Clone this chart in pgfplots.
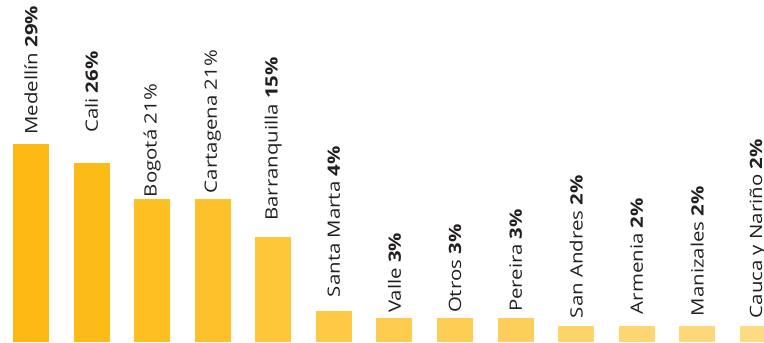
\documentclass[border=0pt]{standalone}
\usepackage{fontspec}
\setmainfont{Open Sans}
\newfontfamily\lblfont[FakeStretch=1.2]{Open Sans}
\usepackage{pgfplots}
\pgfplotsset{compat=1.18}
\definecolor{c0}{HTML}{FDB913}
\definecolor{c1}{HTML}{FDBB18}
\definecolor{c2}{HTML}{FDBF22}
\definecolor{c3}{HTML}{FDC12C}
\definecolor{c4}{HTML}{FEC73A}
\definecolor{c5}{HTML}{FEC944}
\definecolor{c6}{HTML}{FDCB4E}
\definecolor{c7}{HTML}{FDCD54}
\definecolor{c8}{HTML}{FDCF5A}
\definecolor{c9}{HTML}{FDD46A}
\definecolor{c10}{HTML}{FDD672}
\definecolor{c11}{HTML}{FDD87A}
\definecolor{c12}{HTML}{FDDB82}
\definecolor{txt}{HTML}{231F20}
\pgfplotsset{lbl/.style={nodes near coords={\pgfplotspointmeta}, point meta=explicit symbolic,
  every node near coord/.append style={inner xsep=#1pt}}}
\begin{document}
\begin{tikzpicture}
\useasboundingbox (0,0) rectangle (764pt,343pt);
\clip (0,0) rectangle (764pt,343pt);
\begin{axis}[
  at={(0,0)}, anchor=south west,
  scale only axis, width=764pt, height=343pt,
  xmin=-0.512, xmax=12.1, ymin=-0.146, ymax=50.07,
  hide axis, clip=false,
  ybar, bar width=36pt, bar shift=0pt,
  every node near coord/.append style={rotate=90, anchor=west, inner ysep=0pt,
    font=\lblfont\fontsize{17}{18}\selectfont, text=txt},
]
\addplot[fill=c0, draw=none, lbl=9] coordinates {(0,29) [Medellín \textbf{29\%}]};
\addplot[fill=c1, draw=none, lbl=30] coordinates {(1,26.2) [Cali \textbf{26\%}]};
\addplot[fill=c2, draw=none, lbl=2] coordinates {(2,20.9) [Bogotá 21\%]};
\addplot[fill=c3, draw=none, lbl=6] coordinates {(3,20.9) [Cartagena 21\%]};
\addplot[fill=c4, draw=none, lbl=16] coordinates {(4,15.4) [Barranquilla \textbf{15\%}]};
\addplot[fill=c5, draw=none, lbl=14] coordinates {(5,4.5) [Santa Marta \textbf{4\%}]};
\addplot[fill=c6, draw=none, lbl=5] coordinates {(6,3.5) [Valle \textbf{3\%}]};
\addplot[fill=c7, draw=none, lbl=5] coordinates {(7,3.5) [Otros \textbf{3\%}]};
\addplot[fill=c8, draw=none, lbl=6] coordinates {(8,3.5) [Pereira \textbf{3\%}]};
\addplot[fill=c9, draw=none, lbl=8] coordinates {(9,2.3) [San Andres \textbf{2\%}]};
\addplot[fill=c10, draw=none, lbl=12] coordinates {(10,2.3) [Armenia \textbf{2\%}]};
\addplot[fill=c11, draw=none, lbl=10] coordinates {(11,2.3) [Manizales \textbf{2\%}]};
\addplot[fill=c12, draw=none, lbl=8] coordinates {(12,2.3) [Cauca y Nariño \textbf{2\%}]};
\end{axis}
\end{tikzpicture}
\end{document}
